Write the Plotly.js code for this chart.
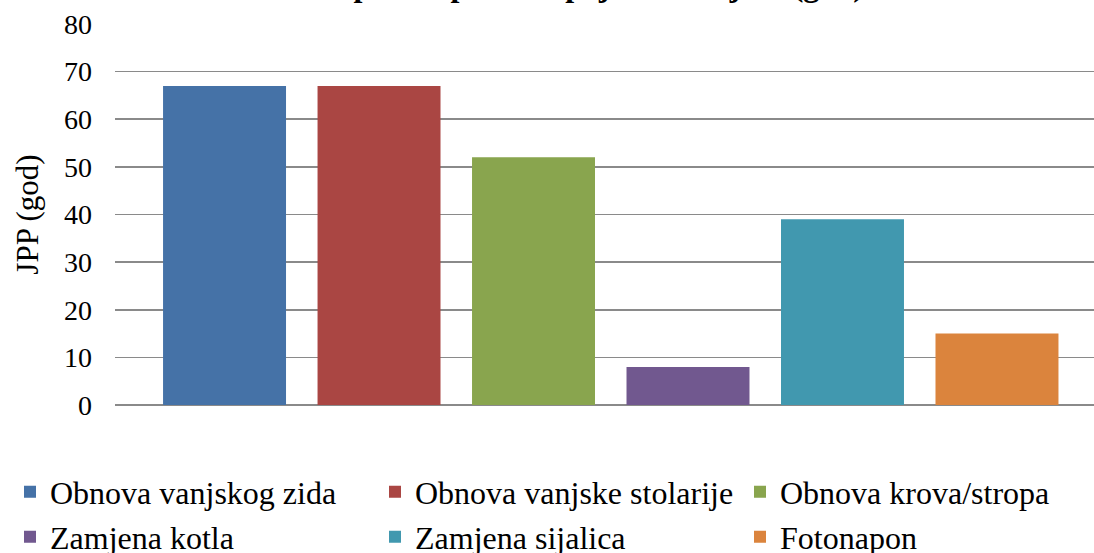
<!DOCTYPE html>
<html>
<head>
<meta charset="utf-8">
<script src="https://cdn.plot.ly/plotly-3.0.1.min.js"></script>
<style>html,body{margin:0;padding:0;background:#fff;}#chart{width:1094px;height:553px;}</style>
</head>
<body>
<div id="chart"></div>
<script>
const categories = ['Obnova vanjskog zida','Obnova vanjske stolarije','Obnova krova/stropa','Zamjena kotla','Zamjena sijalica','Fotonapon'];
const values = [67, 67, 52, 8, 39, 15];
const colors = ['#4572A7','#AA4643','#89A54E','#71588F','#4198AF','#DB843D'];
const yTicks = [0,10,20,30,40,50,60,70,80];
const yTitle = 'JPP (god)';
const chartTitle = 'Jednostavni period povrata pojedinih mjera (god)';

const FONT = '"Liberation Serif", "Times New Roman", serif';

// legend slots: column left edges and row centres (pixels)
const legendCols = [10, 375, 740];
const legendRows = [492, 537];
const legendIds = ['legend','legend2','legend3','legend4','legend5','legend6'];

const traces = categories.map((c, i) => ({
  type: 'bar',
  x: [c],
  y: [values[i]],
  name: c,
  width: 0.796,
  marker: {color: colors[i]},
  legend: legendIds[i],
  hoverinfo: 'name+y'
}));

const layout = {
  width: 1094, height: 553,
  margin: {l: 115, r: 0, t: 24, b: 148},
  paper_bgcolor: '#fff', plot_bgcolor: '#fff',
  font: {family: FONT, color: '#000'},
  barmode: 'overlay',
  showlegend: true,
  xaxis: {
    type: 'category',
    range: [-0.709, 5.628],
    showticklabels: false, ticks: '',
    showgrid: false, zeroline: false, showline: false,
    fixedrange: true
  },
  yaxis: {
    range: [0, 80],
    tickvals: yTicks,
    ticktext: yTicks.map(String),
    ticks: '',
    tickfont: {family: FONT, size: 28, color: '#000'},
    ticklabelstandoff: 22,
    showgrid: true, gridcolor: '#8A8A8A', gridwidth: 1.6,
    zeroline: true, zerolinecolor: '#8A8A8A', zerolinewidth: 1.6,
    showline: false,
    title: {text: yTitle, font: {family: FONT, size: 31, color: '#000'}, standoff: 16},
    fixedrange: true
  },
  annotations: [{
    text: '<b>' + chartTitle + '</b>',
    xref: 'paper', yref: 'paper',
    x: (866 - 115) / 979, y: 1,
    xanchor: 'right', yanchor: 'bottom',
    yshift: 19,
    showarrow: false,
    font: {family: FONT, size: 32, color: '#000'}
  }]
};

legendIds.forEach((id, i) => {
  layout[id] = {
    orientation: 'h',
    xref: 'container', yref: 'container',
    xanchor: 'left', yanchor: 'middle',
    x: legendCols[i % 3] / 1094,
    y: 1 - legendRows[Math.floor(i / 3)] / 553,
    font: {family: FONT, size: 32, color: '#000'},
    bgcolor: 'rgba(0,0,0,0)',
    itemwidth: 30
  };
});

Plotly.newPlot('chart', traces, layout, {displayModeBar: false, staticPlot: true});
</script>
</body>
</html>
